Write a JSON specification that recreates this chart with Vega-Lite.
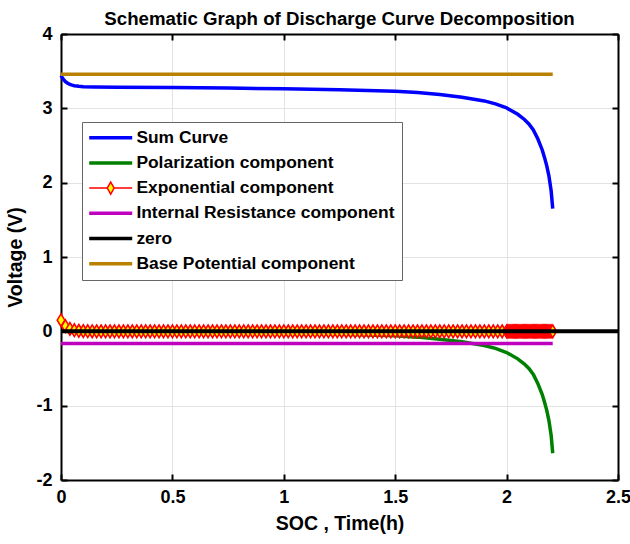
{
  "$schema": "https://vega.github.io/schema/vega-lite/v6.json",
  "width": 557,
  "height": 446,
  "autosize": "none",
  "padding": {"left": 61, "top": 34, "right": 12, "bottom": 64},
  "background": "white",
  "title": {"text": "Schematic Graph of Discharge Curve Decomposition", "font": "Liberation Sans", "fontWeight": "bold", "fontSize": 18.7, "color": "black", "offset": -4},
  "config": {
    "view": {"stroke": null},
    "axis": {"labelFont": "Liberation Sans", "labelFontWeight": "bold", "labelFontSize": 18, "labelColor": "black", "labelFlush": false, "titleFont": "Liberation Sans", "titleFontWeight": "bold", "titleFontSize": 19.5, "titleColor": "black", "domainColor": "black", "domainWidth": 2, "tickColor": "black", "tickWidth": 2, "tickSize": -6, "gridColor": "#E3E3E3", "gridWidth": 1}
  },
  "datasets": {
    "sum": [
      {"t": 0, "v": 3.44}, {"t": 0.01, "v": 3.392}, {"t": 0.02, "v": 3.359}, {"t": 0.03, "v": 3.337}, {"t": 0.04, "v": 3.322}, {"t": 0.05, "v": 3.312}, {"t": 0.06, "v": 3.305}, {"t": 0.08, "v": 3.297}, {"t": 0.1, "v": 3.291}, {"t": 0.15, "v": 3.287}, {"t": 0.25, "v": 3.285}, {"t": 0.5, "v": 3.279}, {"t": 0.75, "v": 3.272}, {"t": 1.0, "v": 3.262}, {"t": 1.25, "v": 3.25}, {"t": 1.5, "v": 3.23}, {"t": 1.6, "v": 3.212}, {"t": 1.7, "v": 3.185}, {"t": 1.8, "v": 3.15}, {"t": 1.9, "v": 3.1}, {"t": 1.95, "v": 3.06}, {"t": 2.0, "v": 3.005}, {"t": 2.05, "v": 2.92}, {"t": 2.08, "v": 2.85}, {"t": 2.1, "v": 2.79}, {"t": 2.12, "v": 2.71}, {"t": 2.14, "v": 2.59}, {"t": 2.16, "v": 2.44}, {"t": 2.17, "v": 2.34}, {"t": 2.18, "v": 2.23}, {"t": 2.19, "v": 2.09}, {"t": 2.2, "v": 1.89}, {"t": 2.207, "v": 1.65}
    ],
    "polar": [
      {"t": 0, "v": 0}, {"t": 0.15, "v": -0.003}, {"t": 0.25, "v": -0.005}, {"t": 0.5, "v": -0.011}, {"t": 0.75, "v": -0.018}, {"t": 1.0, "v": -0.028}, {"t": 1.25, "v": -0.04}, {"t": 1.5, "v": -0.06}, {"t": 1.6, "v": -0.078}, {"t": 1.7, "v": -0.105}, {"t": 1.8, "v": -0.14}, {"t": 1.9, "v": -0.19}, {"t": 1.95, "v": -0.23}, {"t": 2.0, "v": -0.285}, {"t": 2.05, "v": -0.37}, {"t": 2.08, "v": -0.44}, {"t": 2.1, "v": -0.5}, {"t": 2.12, "v": -0.58}, {"t": 2.14, "v": -0.7}, {"t": 2.16, "v": -0.85}, {"t": 2.17, "v": -0.95}, {"t": 2.18, "v": -1.06}, {"t": 2.19, "v": -1.2}, {"t": 2.2, "v": -1.4}, {"t": 2.207, "v": -1.64}
    ],
    "expo": [
      {"t": 0, "v": 0.15}, {"t": 0.02, "v": 0.07}, {"t": 0.04, "v": 0.032}, {"t": 0.06, "v": 0.015}, {"t": 0.08, "v": 0.007}, {"t": 0.1, "v": 0.003}, {"t": 0.12, "v": 0.0015}, {"t": 0.14, "v": 0.0007}, {"t": 0.16, "v": 0}, {"t": 0.18, "v": 0},
      {"t": 0.2, "v": 0}, {"t": 0.22, "v": 0}, {"t": 0.24, "v": 0}, {"t": 0.26, "v": 0}, {"t": 0.28, "v": 0}, {"t": 0.3, "v": 0}, {"t": 0.32, "v": 0}, {"t": 0.34, "v": 0}, {"t": 0.36, "v": 0}, {"t": 0.38, "v": 0},
      {"t": 0.4, "v": 0}, {"t": 0.42, "v": 0}, {"t": 0.44, "v": 0}, {"t": 0.46, "v": 0}, {"t": 0.48, "v": 0}, {"t": 0.5, "v": 0}, {"t": 0.52, "v": 0}, {"t": 0.54, "v": 0}, {"t": 0.56, "v": 0}, {"t": 0.58, "v": 0},
      {"t": 0.6, "v": 0}, {"t": 0.62, "v": 0}, {"t": 0.64, "v": 0}, {"t": 0.66, "v": 0}, {"t": 0.68, "v": 0}, {"t": 0.7, "v": 0}, {"t": 0.72, "v": 0}, {"t": 0.74, "v": 0}, {"t": 0.76, "v": 0}, {"t": 0.78, "v": 0},
      {"t": 0.8, "v": 0}, {"t": 0.82, "v": 0}, {"t": 0.84, "v": 0}, {"t": 0.86, "v": 0}, {"t": 0.88, "v": 0}, {"t": 0.9, "v": 0}, {"t": 0.92, "v": 0}, {"t": 0.94, "v": 0}, {"t": 0.96, "v": 0}, {"t": 0.98, "v": 0},
      {"t": 1.0, "v": 0}, {"t": 1.02, "v": 0}, {"t": 1.04, "v": 0}, {"t": 1.06, "v": 0}, {"t": 1.08, "v": 0}, {"t": 1.1, "v": 0}, {"t": 1.12, "v": 0}, {"t": 1.14, "v": 0}, {"t": 1.16, "v": 0}, {"t": 1.18, "v": 0},
      {"t": 1.2, "v": 0}, {"t": 1.22, "v": 0}, {"t": 1.24, "v": 0}, {"t": 1.26, "v": 0}, {"t": 1.28, "v": 0}, {"t": 1.3, "v": 0}, {"t": 1.32, "v": 0}, {"t": 1.34, "v": 0}, {"t": 1.36, "v": 0}, {"t": 1.38, "v": 0},
      {"t": 1.4, "v": 0}, {"t": 1.42, "v": 0}, {"t": 1.44, "v": 0}, {"t": 1.46, "v": 0}, {"t": 1.48, "v": 0}, {"t": 1.5, "v": 0}, {"t": 1.52, "v": 0}, {"t": 1.54, "v": 0}, {"t": 1.56, "v": 0}, {"t": 1.58, "v": 0},
      {"t": 1.6, "v": 0}, {"t": 1.62, "v": 0}, {"t": 1.64, "v": 0}, {"t": 1.66, "v": 0}, {"t": 1.68, "v": 0}, {"t": 1.7, "v": 0}, {"t": 1.72, "v": 0}, {"t": 1.74, "v": 0}, {"t": 1.76, "v": 0}, {"t": 1.78, "v": 0},
      {"t": 1.8, "v": 0}, {"t": 1.82, "v": 0}, {"t": 1.84, "v": 0}, {"t": 1.86, "v": 0}, {"t": 1.88, "v": 0}, {"t": 1.9, "v": 0}, {"t": 1.92, "v": 0}, {"t": 1.94, "v": 0}, {"t": 1.96, "v": 0}, {"t": 1.98, "v": 0},
      {"t": 2.0, "v": 0}, {"t": 2.005, "v": 0}, {"t": 2.01, "v": 0}, {"t": 2.015, "v": 0}, {"t": 2.02, "v": 0}, {"t": 2.025, "v": 0}, {"t": 2.03, "v": 0}, {"t": 2.035, "v": 0}, {"t": 2.04, "v": 0}, {"t": 2.045, "v": 0},
      {"t": 2.05, "v": 0}, {"t": 2.055, "v": 0}, {"t": 2.06, "v": 0}, {"t": 2.065, "v": 0}, {"t": 2.07, "v": 0}, {"t": 2.075, "v": 0}, {"t": 2.08, "v": 0}, {"t": 2.085, "v": 0}, {"t": 2.09, "v": 0}, {"t": 2.095, "v": 0},
      {"t": 2.1, "v": 0}, {"t": 2.105, "v": 0}, {"t": 2.11, "v": 0}, {"t": 2.115, "v": 0}, {"t": 2.12, "v": 0}, {"t": 2.125, "v": 0}, {"t": 2.13, "v": 0}, {"t": 2.135, "v": 0}, {"t": 2.14, "v": 0}, {"t": 2.145, "v": 0},
      {"t": 2.15, "v": 0}, {"t": 2.155, "v": 0}, {"t": 2.16, "v": 0}, {"t": 2.165, "v": 0}, {"t": 2.17, "v": 0}, {"t": 2.175, "v": 0}, {"t": 2.18, "v": 0}, {"t": 2.185, "v": 0}, {"t": 2.19, "v": 0}, {"t": 2.195, "v": 0},
      {"t": 2.2, "v": 0}, {"t": 2.207, "v": 0}
    ],
    "ir": [{"t": 0, "v": -0.165}, {"t": 2.207, "v": -0.165}],
    "zero": [{"t": 0, "v": 0}, {"t": 2.5, "v": 0}],
    "base": [{"t": 0, "v": 3.46}, {"t": 2.207, "v": 3.46}]
  },
  "resolve": {"axis": {"x": "independent", "y": "independent"}},
  "layer": [
    {
      "data": {"name": "sum"},
      "mark": {"type": "line", "strokeWidth": 3.5},
      "encoding": {
        "x": {"field": "t", "type": "quantitative", "scale": {"domain": [0, 2.5], "nice": false, "zero": false},
              "axis": {"orient": "bottom", "values": [0, 0.5, 1, 1.5, 2, 2.5], "labelExpr": "datum.value + ''", "title": "SOC , Time(h)", "grid": true, "labelPadding": 14, "titlePadding": 8}},
        "y": {"field": "v", "type": "quantitative", "scale": {"domain": [-2, 4], "nice": false, "zero": false},
              "axis": {"orient": "left", "values": [-2, -1, 0, 1, 2, 3, 4], "labelExpr": "datum.value + ''", "title": "Voltage (V)", "grid": true, "labelPadding": 15, "titlePadding": 10}},
        "color": {"datum": "Sum Curve", "type": "nominal",
          "scale": {"domain": ["Sum Curve", "Polarization component", "Exponential component", "Internal Resistance component", "zero", "Base Potential component"],
                    "range": ["#0000FF", "#008000", "#FF0000", "#BF00BF", "#000000", "#BA8000"]},
          "legend": {"title": null, "orient": "none", "legendX": 21, "legendY": 88, "direction": "vertical",
            "fillColor": "white", "strokeColor": "#666666", "padding": 7, "rowPadding": 6.2,
            "labelFont": "Liberation Sans", "labelFontWeight": "bold", "labelFontSize": 17.4, "labelColor": "black", "labelLimit": 0, "labelOffset": 17,
            "symbolType": "stroke", "symbolSize": 1849, "symbolStrokeWidth": 3.5, "symbolOffset": 13,
            "encode": {"symbols": {"update": {
              "shape": {"signal": "datum.value === 'Exponential component' ? 'M-1,0H-0.16M0.16,0H1M0,-0.28L0.16,0L0,0.28L-0.16,0Z' : 'stroke'"},
              "fill": {"signal": "datum.value === 'Exponential component' ? '#FFFF00' : 'transparent'"},
              "strokeWidth": {"signal": "datum.value === 'Exponential component' ? 1.5 : 3.5"}
            }}}}
        }
      }
    },
    {
      "data": {"name": "polar"},
      "mark": {"type": "line", "strokeWidth": 3.5},
      "encoding": {
        "x": {"field": "t", "type": "quantitative", "axis": null},
        "y": {"field": "v", "type": "quantitative", "axis": null},
        "color": {"datum": "Polarization component", "type": "nominal"}
      }
    },
    {
      "data": {"name": "expo"},
      "mark": {"type": "line", "strokeWidth": 1.5},
      "encoding": {
        "x": {"field": "t", "type": "quantitative", "axis": null},
        "y": {"field": "v", "type": "quantitative", "axis": null},
        "color": {"datum": "Exponential component", "type": "nominal"}
      }
    },
    {
      "data": {"name": "expo"},
      "mark": {"type": "point", "shape": "M0,-1L0.6,0L0,1L-0.6,0Z", "filled": true, "fill": "#FFFF00", "stroke": "#FF0000", "strokeWidth": 1.6, "size": 160, "opacity": 1, "fillOpacity": 1, "strokeOpacity": 1},
      "encoding": {
        "x": {"field": "t", "type": "quantitative", "axis": null},
        "y": {"field": "v", "type": "quantitative", "axis": null}
      }
    },
    {
      "data": {"name": "ir"},
      "mark": {"type": "line", "strokeWidth": 3.5},
      "encoding": {
        "x": {"field": "t", "type": "quantitative", "axis": null},
        "y": {"field": "v", "type": "quantitative", "axis": null},
        "color": {"datum": "Internal Resistance component", "type": "nominal"}
      }
    },
    {
      "data": {"name": "zero"},
      "mark": {"type": "line", "strokeWidth": 4},
      "encoding": {
        "x": {"field": "t", "type": "quantitative", "axis": null},
        "y": {"field": "v", "type": "quantitative", "axis": null},
        "color": {"datum": "zero", "type": "nominal"}
      }
    },
    {
      "data": {"name": "base"},
      "mark": {"type": "line", "strokeWidth": 3.5},
      "encoding": {
        "x": {"field": "t", "type": "quantitative",
              "axis": {"orient": "top", "values": [0, 0.5, 1, 1.5, 2, 2.5], "labels": false, "title": null, "grid": false}},
        "y": {"field": "v", "type": "quantitative",
              "axis": {"orient": "right", "values": [-2, -1, 0, 1, 2, 3, 4], "labels": false, "title": null, "grid": false}},
        "color": {"datum": "Base Potential component", "type": "nominal"}
      }
    }
  ]
}
